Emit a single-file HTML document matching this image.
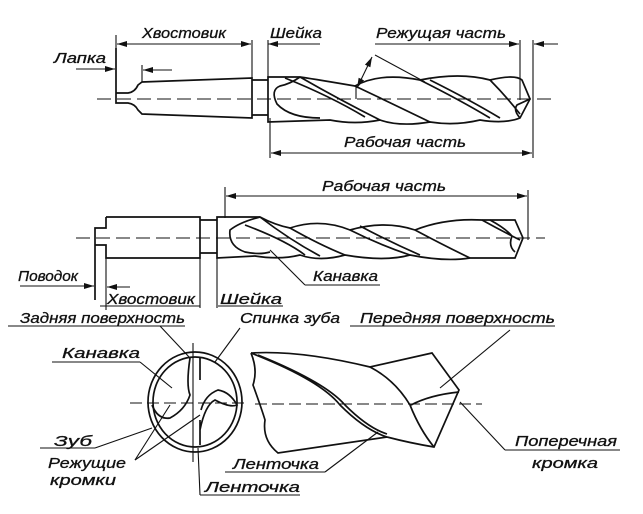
<!DOCTYPE html>
<html><head><meta charset="utf-8"><style>
html,body{margin:0;padding:0;background:#fff;}
svg{display:block;}
text{font-family:"Liberation Sans",sans-serif;font-style:italic;font-size:15px;fill:#111;stroke:#111;stroke-width:0.3;}
</style></head><body>
<svg width="643" height="514" viewBox="0 0 643 514" xmlns="http://www.w3.org/2000/svg">
<defs>
<marker id="a" markerWidth="10" markerHeight="6" refX="10" refY="3" orient="auto-start-reverse" markerUnits="userSpaceOnUse"><path d="M0,0 L10,3 L0,6 z" fill="#111"/></marker>
</defs>
<g stroke="#111" fill="none" stroke-width="1.7">
<!-- TOP DRILL -->
<line x1="97" y1="99" x2="555" y2="99" stroke-dasharray="14,6" stroke-width="1.1"/>
<path d="M116,48 V93 H128 Q135,92 138,85 L142,82 L252,78 V118 L142,114 L138,110 Q135,104 128,103 H116 V93"/>
<path d="M252,80 H268 M252,115 H268"/>
<path d="M268,77 H300 Q320,80 355,86 Q380,72 420,80 Q460,72 490,80 Q515,74 522,80 L530,99 L520,118 Q505,124 480,120 Q455,126 430,122 Q400,127 380,120 Q355,125 330,120 L268,122 Z"/>
<path d="M300,77 Q290,84 280,86 Q270,90 277,104 Q290,118 320,118 M300,77 Q340,100 380,120 M285,78 Q330,96 365,117"/>
<path d="M355,86 Q395,105 430,122 M420,80 Q460,100 490,118 M430,80 Q470,100 500,118 M490,80 Q505,95 520,114 M520,118 Q513,110 517,105 L530,99"/>
<!-- top dims -->
<line x1="116" y1="35" x2="116" y2="48" stroke-width="1.1"/>
<line x1="252" y1="40" x2="252" y2="78" stroke-width="1.1"/>
<line x1="117" y1="44" x2="251" y2="44" stroke-width="1.1" marker-start="url(#a)" marker-end="url(#a)"/>
<line x1="268" y1="40" x2="268" y2="77" stroke-width="1.1"/>
<line x1="268" y1="44" x2="320" y2="44" stroke-width="1.1" marker-start="url(#a)"/>
<line x1="375" y1="44" x2="519" y2="44" stroke-width="1.1" marker-end="url(#a)"/>
<line x1="520" y1="40" x2="520" y2="100" stroke-width="1.1"/>
<line x1="533" y1="40" x2="533" y2="158" stroke-width="1.1"/>
<line x1="558" y1="44" x2="534" y2="44" stroke-width="1.1" marker-end="url(#a)"/>
<line x1="76" y1="69" x2="115" y2="69" stroke-width="1.1" marker-end="url(#a)"/>
<line x1="172" y1="70" x2="143" y2="70" stroke-width="1.1" marker-end="url(#a)"/>
<line x1="142" y1="65" x2="142" y2="82" stroke-width="1.1"/>
<line x1="372" y1="57" x2="357" y2="88" stroke-width="1.1" marker-start="url(#a)" marker-end="url(#a)"/>
<line x1="375" y1="55" x2="425" y2="82" stroke-width="1.1"/>
<line x1="356" y1="86" x2="356" y2="99" stroke-width="1.1"/>
<line x1="270" y1="118" x2="270" y2="158" stroke-width="1.1"/>
<line x1="271" y1="153" x2="532" y2="153" stroke-width="1.1" marker-start="url(#a)" marker-end="url(#a)"/>
<!-- SECOND DRILL -->
<line x1="76" y1="238" x2="545" y2="238" stroke-dasharray="14,6" stroke-width="1.1"/>
<path d="M106,217 H200 V258 H106 V245 H95 M106,217 V228 H95 V300"/>
<path d="M200,220 H217 M200,253 H217"/>
<path d="M217,217 H260 Q275,225 290,228 Q320,218 350,230 Q385,220 415,230 Q445,218 482,220 L515,220 L523,238 L515,258 H470 Q445,262 410,255 Q385,262 345,255 Q320,262 300,255 Q280,260 255,256 L217,258 Z"/>
<path d="M260,217 Q240,222 230,230 Q228,246 245,252 Q260,255 270,252 M260,217 Q290,240 320,256 M245,225 Q285,240 305,255 M290,228 Q320,245 345,255 M350,230 Q380,245 410,255 M360,226 Q390,242 420,255 M415,230 Q445,246 470,258 M482,220 Q500,230 520,240 M490,220 Q505,228 512,236 Q508,246 515,252"/>
<line x1="225" y1="187" x2="225" y2="218" stroke-width="1.1"/>
<line x1="528" y1="190" x2="528" y2="240" stroke-width="1.1"/>
<line x1="226" y1="196" x2="527" y2="196" stroke-width="1.1" marker-start="url(#a)" marker-end="url(#a)"/>
<line x1="20" y1="286" x2="94" y2="286" stroke-width="1.1" marker-end="url(#a)"/>
<line x1="106" y1="258" x2="106" y2="310" stroke-width="1.1"/>
<line x1="200" y1="258" x2="200" y2="308" stroke-width="1.1"/>
<line x1="217" y1="258" x2="217" y2="308" stroke-width="1.1"/>
<line x1="107" y1="287" x2="130" y2="287" stroke-width="1.1" marker-start="url(#a)"/>
<line x1="270" y1="250" x2="305" y2="285" stroke-width="1.1"/>
<line x1="305" y1="285" x2="380" y2="285" stroke-width="1.1"/>
<line x1="100" y1="306" x2="200" y2="306" stroke-width="1.1"/>
<line x1="218" y1="306" x2="283" y2="306" stroke-width="1.1"/>
<!-- CROSS SECTION -->
<ellipse cx="195" cy="402" rx="47" ry="50"/>
<ellipse cx="195" cy="402" rx="42" ry="45"/>
<line x1="193" y1="343" x2="193" y2="462" stroke-width="1.1"/>
<line x1="130" y1="403" x2="245" y2="403" stroke-dasharray="12,5" stroke-width="1.1"/>
<path d="M190,358 Q186,385 190,395 Q185,410 170,418 Q158,420 152,405 M200,358 Q200,375 200,380 M200,420 Q200,440 200,445 M200,430 Q205,405 215,400 Q230,408 237,405 Q230,392 218,390 Q205,395 201,410"/>
<!-- side view -->
<path d="M251,353 Q258,370 253,385 Q262,410 265,420 Q262,440 278,453 L387,437 M251,353 Q300,350 370,367 L432,353 L459,390 L434,447 Q410,443 387,437"/>
<path d="M251,353 Q320,380 340,405 Q365,430 387,437 M258,355 Q325,382 345,405 Q368,428 387,434 M370,367 Q395,380 410,405 Q420,430 434,447 M411,405 Q430,395 459,392"/>
<line x1="255" y1="404" x2="482" y2="404" stroke-dasharray="12,5" stroke-width="1.1"/>
<!-- leaders -->
<line x1="8" y1="326" x2="185" y2="326" stroke-width="1.1"/>
<line x1="160" y1="326" x2="190" y2="358" stroke-width="1.1"/>
<line x1="240" y1="328" x2="215" y2="362" stroke-width="1.1"/>
<line x1="350" y1="326" x2="555" y2="326" stroke-width="1.1"/>
<line x1="510" y1="330" x2="440" y2="388" stroke-width="1.1"/>
<line x1="52" y1="362" x2="140" y2="362" stroke-width="1.1"/>
<line x1="140" y1="362" x2="172" y2="388" stroke-width="1.1"/>
<line x1="40" y1="448" x2="95" y2="448" stroke-width="1.1"/>
<line x1="95" y1="448" x2="152" y2="428" stroke-width="1.1"/>
<line x1="135" y1="460" x2="170" y2="405" stroke-width="1.1"/>
<line x1="135" y1="460" x2="200" y2="415" stroke-width="1.1"/>
<line x1="225" y1="472" x2="325" y2="472" stroke-width="1.1"/>
<line x1="325" y1="472" x2="378" y2="432" stroke-width="1.1"/>
<line x1="200" y1="495" x2="300" y2="495" stroke-width="1.1"/>
<line x1="200" y1="495" x2="198" y2="448" stroke-width="1.1"/>
<line x1="460" y1="402" x2="505" y2="450" stroke-width="1.1"/>
<line x1="505" y1="450" x2="620" y2="450" stroke-width="1.1"/>
</g>
<g>
<text x="142" y="38" textLength="84" lengthAdjust="spacingAndGlyphs">Хвостовик</text>
<text x="270" y="38" textLength="52" lengthAdjust="spacingAndGlyphs">Шейка</text>
<text x="376" y="38" textLength="130" lengthAdjust="spacingAndGlyphs">Режущая часть</text>
<text x="54" y="63" textLength="52" lengthAdjust="spacingAndGlyphs">Лапка</text>
<text x="344" y="147" textLength="122" lengthAdjust="spacingAndGlyphs">Рабочая часть</text>
<text x="322" y="191" textLength="124" lengthAdjust="spacingAndGlyphs">Рабочая часть</text>
<text x="18" y="281" textLength="60" lengthAdjust="spacingAndGlyphs">Поводок</text>
<text x="313" y="281" textLength="65" lengthAdjust="spacingAndGlyphs">Канавка</text>
<text x="107" y="304" textLength="88" lengthAdjust="spacingAndGlyphs">Хвостовик</text>
<text x="220" y="304" textLength="62" lengthAdjust="spacingAndGlyphs">Шейка</text>
<text x="20" y="323" textLength="165" lengthAdjust="spacingAndGlyphs">Задняя поверхность</text>
<text x="240" y="323" textLength="100" lengthAdjust="spacingAndGlyphs">Спинка зуба</text>
<text x="360" y="323" textLength="195" lengthAdjust="spacingAndGlyphs">Передняя поверхность</text>
<text x="62" y="358" textLength="78" lengthAdjust="spacingAndGlyphs">Канавка</text>
<text x="54" y="446" textLength="38" lengthAdjust="spacingAndGlyphs">Зуб</text>
<text x="48" y="468" textLength="78" lengthAdjust="spacingAndGlyphs">Режущие</text>
<text x="50" y="485" textLength="66" lengthAdjust="spacingAndGlyphs">кромки</text>
<text x="233" y="469" textLength="86" lengthAdjust="spacingAndGlyphs">Ленточка</text>
<text x="205" y="492" textLength="95" lengthAdjust="spacingAndGlyphs">Ленточка</text>
<text x="515" y="446" textLength="102" lengthAdjust="spacingAndGlyphs">Поперечная</text>
<text x="532" y="468" textLength="66" lengthAdjust="spacingAndGlyphs">кромка</text>
</g>
</svg>
</body></html>
